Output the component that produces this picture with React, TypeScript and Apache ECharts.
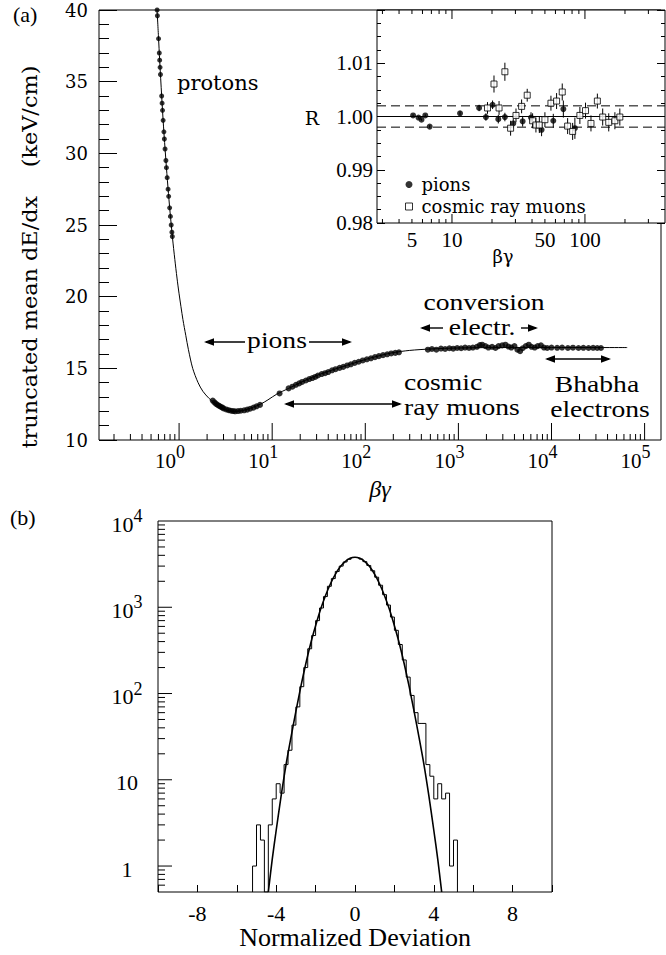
import React, { useEffect, useRef } from "react";
import * as echarts from "echarts";

const SERIF = "Liberation Serif";
const WIDE = "DejaVu Serif";

// ---------- Panel (a): dE/dx versus beta*gamma ----------
const curveBetaGamma = [0.58, 0.6, 0.62, 0.65, 0.68, 0.72, 0.76, 0.8, 0.85, 0.9, 0.95, 1.0, 1.1, 1.18, 1.26, 1.4, 1.6, 1.8, 2.1, 2.5, 3.0, 3.8, 4.8, 6.0, 7.5, 9.0, 11.2, 15, 20, 30, 45, 70, 104, 150, 200, 300, 500, 1000, 3000, 10000, 65000];
const curveDedx = [40.0, 38.2, 36.4, 34.0, 31.9, 29.6, 27.6, 25.9, 24.1, 22.6, 21.3, 20.2, 18.4, 17.3, 16.3, 15.0, 14.0, 13.4, 12.9, 12.45, 12.15, 12.0, 12.05, 12.25, 12.5, 12.8, 13.2, 13.6, 14.0, 14.5, 14.9, 15.3, 15.65, 15.92, 16.1, 16.25, 16.35, 16.42, 16.45, 16.45, 16.45];

const protonBetaGamma = [0.581, 0.585, 0.602, 0.613, 0.619, 0.625, 0.631, 0.65, 0.657, 0.664, 0.674, 0.687, 0.695, 0.707, 0.722, 0.731, 0.745, 0.762, 0.773, 0.792, 0.807, 0.823, 0.837, 0.846];
const protonDedx = [40.0, 39.6, 38.0, 37.0, 36.5, 36.0, 35.5, 34.0, 33.5, 33.0, 32.3, 31.5, 31.0, 30.3, 29.5, 29.0, 28.3, 27.5, 27.0, 26.2, 25.6, 25.0, 24.5, 24.2];

const pionBetaGamma = [2.3, 2.4, 2.5, 2.6, 2.7, 2.8, 2.9, 3.0, 3.2, 3.4, 3.6, 3.8, 4.0, 4.3, 4.6, 5.0, 5.4, 5.8, 6.3, 6.8, 7.4, 12.0];
const pionDedx = [12.75, 12.62, 12.52, 12.44, 12.38, 12.32, 12.27, 12.2, 12.13, 12.08, 12.04, 12.02, 12.0, 12.02, 12.04, 12.07, 12.12, 12.18, 12.26, 12.35, 12.45, 13.25];

const muonBetaGamma = [15, 16.5, 18, 19.5, 21, 23, 25, 27, 29, 31, 34, 37, 40, 44, 48, 53, 58, 64, 70, 77, 85, 94, 104, 115, 127, 140, 155, 172, 190, 210, 230];
const muonDedx = [13.6, 13.72, 13.85, 13.95, 14.05, 14.15, 14.25, 14.32, 14.4, 14.5, 14.6, 14.66, 14.74, 14.86, 14.94, 15.03, 15.1, 15.2, 15.28, 15.38, 15.46, 15.55, 15.63, 15.7, 15.78, 15.85, 15.92, 15.98, 16.04, 16.08, 16.12];

const electronBetaGamma = [470, 520, 580, 650, 720, 800, 880, 970, 1070, 1180, 1300, 1430, 1580, 1700, 1800, 1950, 2100, 2300, 2500, 2700, 2950, 3200, 3450, 3700, 4000, 4300, 4600, 4900, 5300, 5700, 6100, 6600, 7100, 7700, 8300, 9000, 10000, 11500, 13000, 15000, 17000, 19500, 22000, 25000, 28000, 31000, 34000];
const electronDedx = [16.3, 16.35, 16.3, 16.38, 16.35, 16.4, 16.37, 16.42, 16.4, 16.45, 16.42, 16.45, 16.5, 16.62, 16.65, 16.55, 16.45, 16.5, 16.42, 16.55, 16.6, 16.65, 16.52, 16.45, 16.55, 16.3, 16.2, 16.4, 16.55, 16.65, 16.5, 16.45, 16.55, 16.6, 16.45, 16.42, 16.45, 16.43, 16.45, 16.42, 16.44, 16.42, 16.43, 16.42, 16.43, 16.42, 16.42];

// ---------- Inset: ratio R versus beta*gamma ----------
const insetPionBetaGamma = [5.1, 5.6, 5.9, 6.3, 6.8, 11.5, 16.0, 18.0, 20.2, 22.3, 25.0, 28.9, 34.0, 39.3, 47.2, 57.8, 68.8, 84.0];
const insetPionR = [1.0002, 0.9998, 0.9994, 1.0002, 0.9981, 1.0006, 1.0016, 0.9999, 1.0022, 0.9995, 0.9999, 0.9987, 0.9991, 0.9998, 0.9975, 0.9992, 1.0014, 0.9978];
const insetPionErr = [0.0002, 0.0002, 0.0002, 0.0002, 0.0003, 0.0004, 0.0006, 0.0007, 0.0008, 0.0008, 0.0008, 0.0009, 0.001, 0.001, 0.0012, 0.0013, 0.0016, 0.002];

const insetMuonBetaGamma = [18.5, 20.7, 22.6, 25.0, 27.6, 30.3, 33.4, 36.8, 40.4, 42.8, 45.4, 50.0, 55.5, 61.2, 67.5, 74.1, 80.8, 91.6, 101, 111, 124, 136, 151, 168, 183];
const insetMuonR = [1.0016, 1.0061, 1.0016, 1.0084, 0.9978, 1.0002, 1.0019, 1.004, 0.9992, 0.9984, 0.9984, 0.9994, 1.0025, 1.0029, 1.0046, 0.9982, 0.9972, 1.0002, 1.0011, 0.9987, 1.0029, 0.9999, 0.9989, 0.9992, 0.9999];
const insetMuonErr = [0.0011, 0.0016, 0.0013, 0.0017, 0.0014, 0.0013, 0.0013, 0.0012, 0.0014, 0.0014, 0.0015, 0.0014, 0.0014, 0.0015, 0.0016, 0.0015, 0.0016, 0.0016, 0.0015, 0.0015, 0.0014, 0.0016, 0.0017, 0.0016, 0.0016];

const insetCentralLine = 1.0;
const insetBandLines = [1.002, 0.998];

// ---------- Panel (b): normalized deviation histogram ----------
const histLow = -5.2;
const histBinWidth = 0.2;
const histCounts = [
  1, 3, 2, 0, 3, 6, 9, 7, 15, 22, 43, 70, 120, 200, 330, 470, 700, 980, 1330, 1750, 2150, 2600, 3000, 3350, 3600, 3780,
  3760, 3620, 3380, 3050, 2650, 2230, 1800, 1400, 1060, 770, 540, 370, 245, 155, 95, 60, 45, 45, 15, 11, 6, 9, 6, 7, 1, 2,
];
const fitDeviation = [-4.4, -4.2, -4.0, -3.75, -3.5, -3.25, -3.0, -2.75, -2.5, -2.25, -2.0, -1.75, -1.5, -1.25, -1.0, -0.75, -0.5, -0.25, 0, 0.25, 0.5, 0.75, 1.0, 1.25, 1.5, 1.75, 2.0, 2.25, 2.5, 2.75, 3.0, 3.25, 3.5, 3.75, 4.0, 4.2, 4.4];
const fitCounts = [0.5, 1.2, 2.6, 6.5, 15, 31, 62, 120, 220, 380, 610, 940, 1360, 1860, 2400, 2940, 3390, 3690, 3800, 3690, 3390, 2940, 2400, 1860, 1360, 940, 610, 380, 220, 120, 62, 31, 15, 6.5, 2.6, 1.2, 0.5];

// ---------- Tick labels ----------
const mainXLabelPowers = [1, 10, 100, 1000, 10000, 100000];
const insetXLabels = [5, 10, 50, 100];
const bottomXLabels = [-8, -4, 0, 4, 8];

// axis ranges
const A_XMIN = 0.138, A_XMAX = 150000, A_YMIN = 10, A_YMAX = 40;
const I_XMIN = 2.73, I_XMAX = 400, I_YMIN = 0.98, I_YMAX = 1.02;
const B_XMIN = -10, B_XMAX = 10, B_YMIN = 0.5, B_YMAX = 10000;

const pair = (xs: number[], ys: number[]) => xs.map((x, i) => [x, ys[i]]);

const logMinors = (lo: number, hi: number, min: number, max: number) => {
  const out: number[] = [];
  for (let e = lo; e <= hi; e++) {
    for (let k = 2; k <= 9; k++) {
      const v = k * Math.pow(10, e);
      if (v > min * 1.0001 && v < max * 0.9999) out.push(v);
    }
  }
  return out;
};

const tickRender = (params: any, api: any) => {
  const p = api.coord([api.value(0), api.value(1)]);
  return {
    type: "line",
    shape: { x1: p[0], y1: p[1], x2: p[0] + api.value(2), y2: p[1] + api.value(3) },
    style: { stroke: "#000", lineWidth: 1 },
  };
};

const tickSeries = (axisIndex: number, yAxisIndex: number, data: number[][]) => ({
  type: "custom",
  xAxisIndex: axisIndex,
  yAxisIndex,
  silent: true,
  clip: false,
  z: 6,
  renderItem: tickRender,
  data,
});

function buildOption() {
  const aMinor = logMinors(-1, 4, A_XMIN, A_XMAX);
  const aTicks = [
    ...mainXLabelPowers.map((v) => [v, A_YMIN, 0, -17]),
    ...aMinor.map((v) => [v, A_YMIN, 0, -6]),
  ];
  const iMajor = [10, 100];
  const iMinor = logMinors(0, 2, I_XMIN, I_XMAX);
  const iTicks = [
    ...iMajor.map((v) => [v, I_YMIN, 0, -9]),
    ...iMajor.map((v) => [v, I_YMAX, 0, 9]),
    ...iMinor.map((v) => [v, I_YMIN, 0, -4]),
    ...iMinor.map((v) => [v, I_YMAX, 0, 4]),
  ];
  const bMajor = [1, 10, 100, 1000];
  const bMinor = logMinors(-1, 3, B_YMIN, B_YMAX);
  const bTicks = [
    ...bMajor.map((v) => [B_XMIN, v, 14, 0]),
    ...bMinor.map((v) => [B_XMIN, v, 7, 0]),
  ];

  const histPoints: number[][] = [[histLow, B_YMIN]];
  histCounts.forEach((c, i) => {
    const x0 = histLow + i * histBinWidth;
    const y = Math.max(c, B_YMIN);
    histPoints.push([x0, y], [x0 + histBinWidth, y]);
  });
  histPoints.push([histLow + histCounts.length * histBinWidth, B_YMIN]);

  const errData = [
    ...insetPionBetaGamma.map((x, i) => [x, insetPionR[i], insetPionErr[i]]),
    ...insetMuonBetaGamma.map((x, i) => [x, insetMuonR[i], insetMuonErr[i]]),
  ];

  const powLabel = (v: number) => {
    const e = Math.round(Math.log10(v));
    return "{b|10}{s|" + e + "}";
  };

  const dot = { color: "#000" };
  const txt = (text: string, x: number, y: number, font: string, size: number, align = "center", extra: any = {}) => ({
    type: "text",
    x,
    y,
    silent: true,
    z: 20,
    style: { text, fill: "#000", fontFamily: font, fontSize: size, align, verticalAlign: "middle" },
    ...extra,
  });
  const ann = (text: string, x: number, y: number, align = "center") =>
    txt(text, x, y, SERIF, 24, align, { scaleX: 1.15 });
  const hline = (x1: number, x2: number, y: number) => ({
    type: "line",
    silent: true,
    z: 20,
    shape: { x1, y1: y, x2, y2: y },
    style: { stroke: "#000", lineWidth: 1.4 },
  });
  const head = (x: number, y: number, dir: number) => ({
    type: "polygon",
    silent: true,
    z: 20,
    shape: { points: [[x, y], [x - dir * 10, y - 3.8], [x - dir * 10, y + 3.8]] },
    style: { fill: "#000" },
  });
  const refLine = (v: number, dashed: boolean) => ({
    type: "line", xAxisIndex: 1, yAxisIndex: 1, silent: true, z: 2, showSymbol: false,
    data: [[I_XMIN, v], [I_XMAX, v]],
    lineStyle: { color: "#000", width: 1, type: dashed ? [9, 5] : "solid" },
  });

  return {
    animation: false,
    backgroundColor: "#fff",
    textStyle: { fontFamily: SERIF, color: "#000" },
    grid: [
      { left: 99, top: 10, width: 562, height: 430, show: true, borderColor: "#000", borderWidth: 1, backgroundColor: "transparent" },
      { left: 377, top: 10, width: 288, height: 213, show: true, borderColor: "#000", borderWidth: 1, backgroundColor: "#fff" },
      { left: 158, top: 521, width: 394, height: 371, show: true, borderColor: "#000", borderWidth: 1, backgroundColor: "transparent" },
    ],
    xAxis: [
      {
        gridIndex: 0, type: "log", logBase: 10, min: A_XMIN, max: A_XMAX,
        axisLine: { show: false }, axisTick: { show: false }, splitLine: { show: false },
        axisLabel: {
          showMinLabel: false, showMaxLabel: false, margin: 3, padding: [0, 18, 0, 0], align: "center",
          formatter: powLabel,
          rich: {
            b: { fontFamily: SERIF, fontSize: 21, lineHeight: 28, verticalAlign: "bottom", color: "#000" },
            s: { fontFamily: SERIF, fontSize: 18, lineHeight: 18, verticalAlign: "top", color: "#000" },
          },
        },
        name: "βγ", nameLocation: "middle", nameGap: 37,
        nameTextStyle: { fontFamily: SERIF, fontStyle: "italic", fontSize: 24, color: "#000" },
      },
      {
        gridIndex: 1, type: "log", logBase: 10, min: I_XMIN, max: I_XMAX,
        axisLine: { show: false }, axisTick: { show: false }, splitLine: { show: false }, axisLabel: { show: false },
        name: "βγ", nameLocation: "middle", nameGap: 24,
        nameTextStyle: { fontFamily: WIDE, fontSize: 18, color: "#000", padding: [0, 36, 0, 0] },
      },
      {
        gridIndex: 2, type: "value", min: B_XMIN, max: B_XMAX, interval: 2,
        axisLine: { show: false }, splitLine: { show: false },
        axisTick: { show: true, inside: true, length: 7, lineStyle: { color: "#000" } },
        axisLabel: {
          margin: 10, fontFamily: SERIF, fontSize: 22, color: "#000",
          formatter: (v: number) => (bottomXLabels.indexOf(v) >= 0 ? String(v) : ""),
        },
        name: "Normalized Deviation", nameLocation: "middle", nameGap: 28,
        nameTextStyle: { fontFamily: SERIF, fontSize: 26, color: "#000" },
      },
    ],
    yAxis: [
      {
        gridIndex: 0, type: "value", min: A_YMIN, max: A_YMAX, interval: 5,
        axisLine: { show: false }, splitLine: { show: false },
        axisTick: { show: true, inside: true, length: 18, lineStyle: { color: "#000" } },
        minorTick: { show: true, splitNumber: 5, length: 10, lineStyle: { color: "#000" } },
        axisLabel: { margin: 11, fontFamily: WIDE, fontSize: 18, color: "#000" },
      },
      {
        gridIndex: 1, type: "value", min: I_YMIN, max: I_YMAX, interval: 0.01,
        axisLine: { show: false }, splitLine: { show: false },
        axisTick: { show: true, inside: true, length: 8, lineStyle: { color: "#000" } },
        minorTick: { show: true, splitNumber: 4, length: 4, lineStyle: { color: "#000" } },
        axisLabel: { margin: 4, fontFamily: SERIF, fontSize: 21, color: "#000", showMaxLabel: false, formatter: (v: number) => v.toFixed(2) },
      },
      {
        gridIndex: 1, type: "value", position: "right", min: I_YMIN, max: I_YMAX, interval: 0.01,
        axisLine: { show: false }, splitLine: { show: false }, axisLabel: { show: false },
        axisTick: { show: true, inside: true, length: 8, lineStyle: { color: "#000" } },
        minorTick: { show: true, splitNumber: 4, length: 4, lineStyle: { color: "#000" } },
      },
      {
        gridIndex: 2, type: "log", logBase: 10, min: B_YMIN, max: B_YMAX,
        axisLine: { show: false }, axisTick: { show: false }, splitLine: { show: false },
        axisLabel: {
          showMinLabel: false, margin: 31, align: "center",
          formatter: (v: number) => {
            const e = Math.round(Math.log10(v));
            if (e === 0) return "{b|1}";
            if (e === 1) return "{b|10}";
            return "{b|10}{s|" + e + "}";
          },
          rich: {
            b: { fontFamily: SERIF, fontSize: 22, lineHeight: 28, verticalAlign: "bottom", color: "#000" },
            s: { fontFamily: SERIF, fontSize: 18, lineHeight: 18, verticalAlign: "top", color: "#000" },
          },
        },
      },
    ],
    legend: {
      orient: "vertical", left: 400, top: 170, itemWidth: 7, itemHeight: 7, itemGap: 3,
      selectedMode: false,
      textStyle: { fontFamily: WIDE, fontSize: 18, color: "#000", lineHeight: 19, padding: [0, 0, 0, 4] },
      data: [
        { name: "pions", icon: "circle", itemStyle: { color: "#000" } },
        { name: "cosmic ray muons", icon: "rect", itemStyle: { color: "#fff", borderColor: "#000", borderWidth: 1 } },
      ],
    },
    series: [
      // ---- panel (a)
      {
        type: "line", xAxisIndex: 0, yAxisIndex: 0, data: pair(curveBetaGamma, curveDedx),
        showSymbol: false, smooth: 0.3, lineStyle: { color: "#000", width: 1 }, z: 2, silent: true,
      },
      { type: "scatter", xAxisIndex: 0, yAxisIndex: 0, data: pair(protonBetaGamma, protonDedx), symbolSize: 5, itemStyle: dot, z: 3, silent: true },
      { type: "scatter", xAxisIndex: 0, yAxisIndex: 0, data: pair(pionBetaGamma, pionDedx), symbolSize: 6, itemStyle: dot, z: 3, silent: true },
      { type: "scatter", xAxisIndex: 0, yAxisIndex: 0, data: pair(muonBetaGamma, muonDedx), symbolSize: 6, itemStyle: dot, z: 3, silent: true },
      { type: "scatter", xAxisIndex: 0, yAxisIndex: 0, data: pair(electronBetaGamma, electronDedx), symbolSize: 6, itemStyle: dot, z: 3, silent: true },
      tickSeries(0, 0, aTicks),
      // ---- inset
      refLine(insetCentralLine, false),
      ...insetBandLines.map((v) => refLine(v, true)),
      {
        type: "custom", xAxisIndex: 1, yAxisIndex: 1, silent: true, z: 3,
        renderItem: (params: any, api: any) => {
          const x = api.value(0), y = api.value(1), e = api.value(2);
          const p1 = api.coord([x, y - e]);
          const p2 = api.coord([x, y + e]);
          return { type: "line", shape: { x1: p1[0], y1: p1[1], x2: p2[0], y2: p2[1] }, style: { stroke: "#000", lineWidth: 1 } };
        },
        data: errData,
      },
      {
        name: "pions", type: "scatter", xAxisIndex: 1, yAxisIndex: 1,
        data: pair(insetPionBetaGamma, insetPionR), symbol: "circle", symbolSize: 6, itemStyle: dot, z: 5, silent: true,
      },
      {
        name: "cosmic ray muons", type: "scatter", xAxisIndex: 1, yAxisIndex: 1,
        data: pair(insetMuonBetaGamma, insetMuonR), symbol: "rect", symbolSize: 6,
        itemStyle: { color: "#fff", borderColor: "#000", borderWidth: 1 }, z: 5, silent: true,
      },
      tickSeries(1, 1, iTicks),
      {
        type: "custom", xAxisIndex: 1, yAxisIndex: 1, silent: true, clip: false, z: 6,
        data: insetXLabels.map((v) => [v, I_YMIN]),
        renderItem: (params: any, api: any) => {
          const p = api.coord([api.value(0), api.value(1)]);
          return {
            type: "text", x: p[0], y: p[1] + 17,
            style: { text: String(insetXLabels[params.dataIndex]), fill: "#000", fontFamily: SERIF, fontSize: 21, align: "center", verticalAlign: "middle" },
          };
        },
      },
      // ---- panel (b)
      {
        type: "line", xAxisIndex: 2, yAxisIndex: 3, data: histPoints, showSymbol: false,
        lineStyle: { color: "#000", width: 1 }, z: 2, silent: true,
      },
      {
        type: "line", xAxisIndex: 2, yAxisIndex: 3, data: pair(fitDeviation, fitCounts), showSymbol: false, smooth: 0.3,
        lineStyle: { color: "#000", width: 1.6 }, z: 3, silent: true,
      },
      tickSeries(2, 3, bTicks),
    ],
    graphic: [
      txt("(a)", 13, 14, SERIF, 22, "left"),
      txt("(b)", 10, 517, SERIF, 22, "left"),
      txt("truncated mean dE/dx    (keV/cm)", 30, 257, WIDE, 20, "center", { rotation: Math.PI / 2, scaleX: 1.12 }),
      txt("protons", 177, 83, WIDE, 21, "left"),
      txt("R", 312, 118, WIDE, 19, "center"),
      // pions
      ann("pions", 277, 340),
      hline(206, 245, 342), head(204, 342, -1),
      hline(309, 350, 342), head(352, 342, 1),
      // conversion electrons
      ann("conversion", 484, 302),
      ann("electr.", 482, 327),
      hline(422, 443, 328), head(420, 328, -1),
      hline(521, 536, 328), head(538, 328, 1),
      // cosmic ray muons
      ann("cosmic", 404, 382, "left"),
      ann("ray muons", 404, 407, "left"),
      hline(286, 400, 404), head(284, 404, -1), head(402, 404, 1),
      // Bhabha electrons
      ann("Bhabha", 597, 384),
      ann("electrons", 600, 409),
      hline(547, 609, 359), head(545, 359, -1), head(611, 359, 1),
    ],
  };
}

export default function App() {
  const ref = useRef<HTMLDivElement>(null);
  useEffect(() => {
    document.body.style.margin = "0";
    if (!ref.current) return;
    const chart = echarts.init(ref.current, undefined, { renderer: "svg" });
    chart.setOption(buildOption() as any);
    return () => chart.dispose();
  }, []);
  return <div ref={ref} style={{ width: 666, height: 955 }} />;
}
